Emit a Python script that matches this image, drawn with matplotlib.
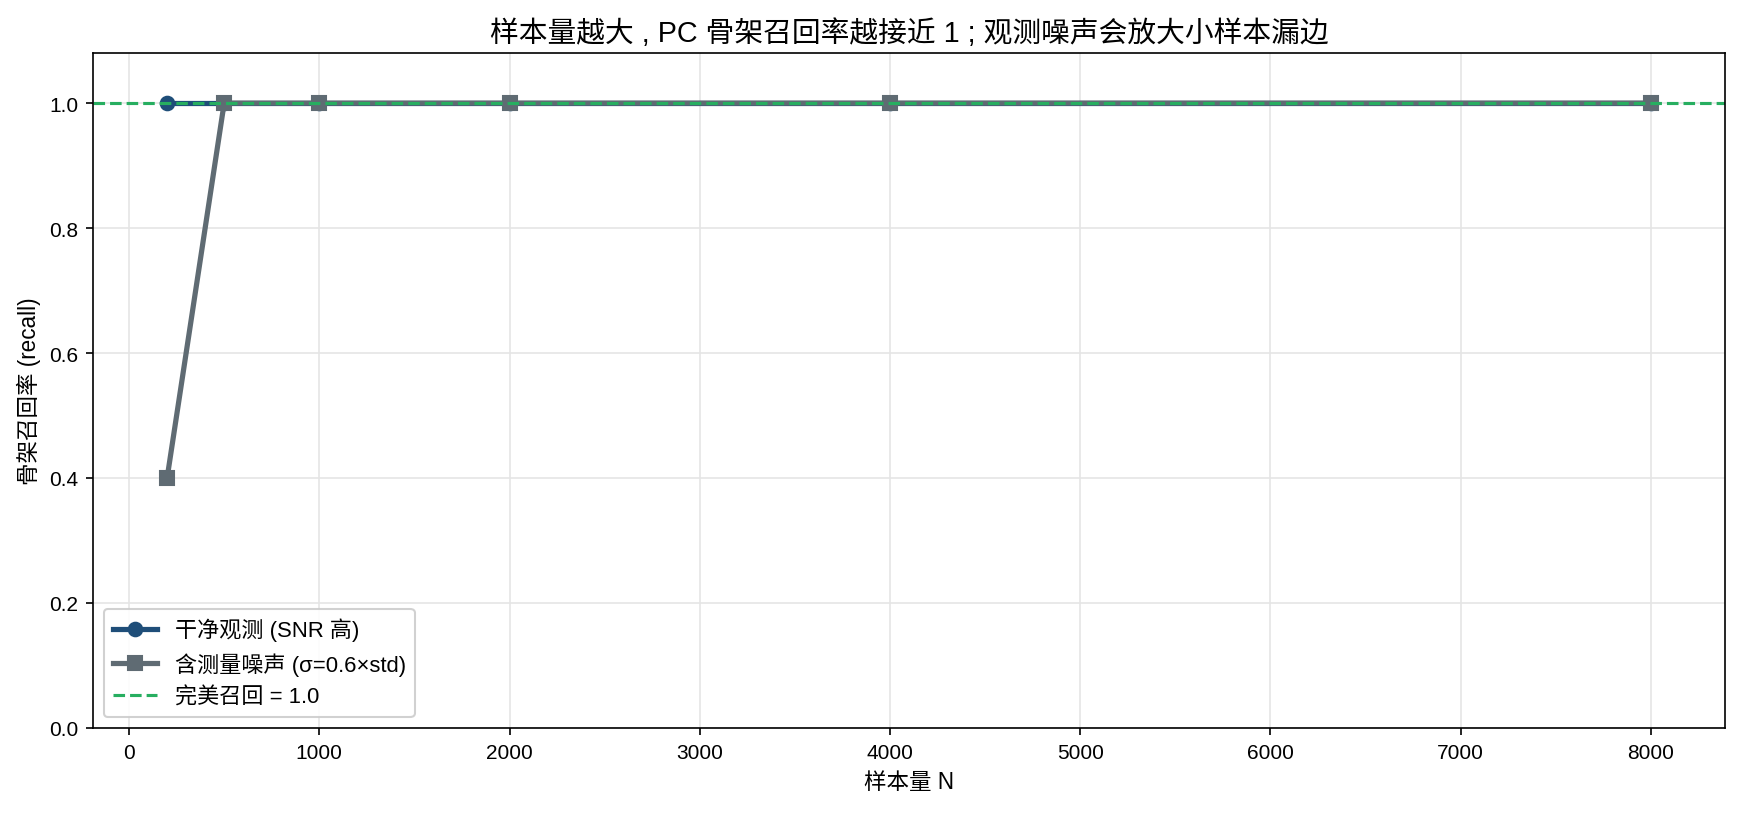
import matplotlib
matplotlib.use("Agg")
import matplotlib.pyplot as plt

plt.rcParams["font.family"] = ["Liberation Sans", "Noto Sans CJK SC", "DejaVu Sans"]
plt.rcParams["axes.unicode_minus"] = False

sample_sizes = [200, 500, 1000, 2000, 4000, 8000]
recall_clean = [1.0, 1.0, 1.0, 1.0, 1.0, 1.0]
recall_noisy = [0.4, 1.0, 1.0, 1.0, 1.0, 1.0]
perfect_recall = 1.0

fig, ax = plt.subplots(figsize=(11.6, 5.433), dpi=150)
fig.subplots_adjust(left=0.0534, right=0.9914, top=0.9337, bottom=0.1055)

ax.plot(sample_sizes, recall_clean, color="#1f4e79", linewidth=2.5, marker="o",
        markersize=6.5, label="干净观测 (SNR 高)")
ax.plot(sample_sizes, recall_noisy, color="#5f6b73", linewidth=2.5, marker="s",
        markersize=7, label="含测量噪声 (σ=0.6×std)")
ax.axhline(perfect_recall, color="#27ae60", linestyle="--", linewidth=1.5,
           label="完美召回 = 1.0")

ax.set_ylim(0, 1.08)
ax.set_xlabel("样本量 N", fontsize=10.8)
ax.set_ylabel("骨架召回率 (recall)", fontsize=10.8)
ax.set_title("样本量越大 , PC 骨架召回率越接近 1 ; 观测噪声会放大小样本漏边", fontsize=13.8)
ax.tick_params(labelsize=10)
ax.grid(True, color="#e5e5e5", linewidth=0.8)
ax.set_axisbelow(True)
ax.legend(loc="lower left", fontsize=10.6, framealpha=0.9)

fig.savefig("out.png", dpi=150)
